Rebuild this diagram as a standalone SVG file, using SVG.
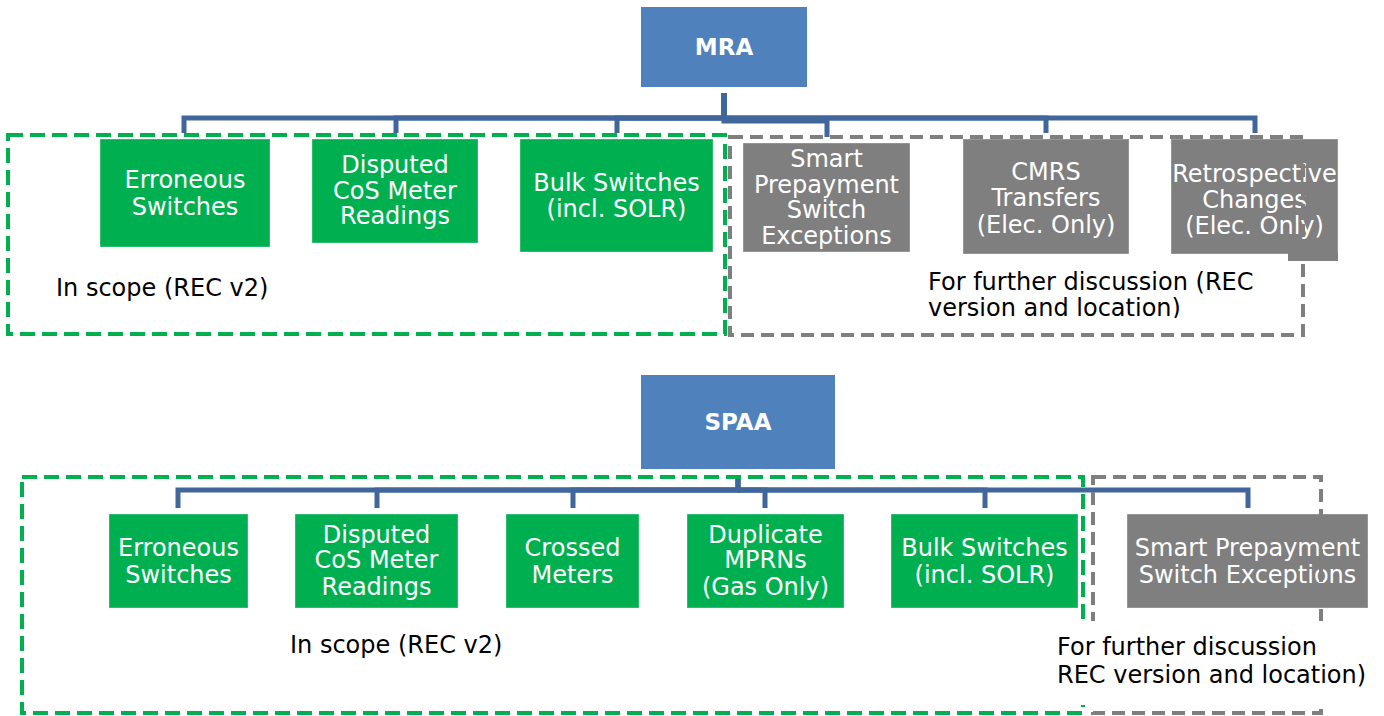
<svg xmlns="http://www.w3.org/2000/svg" width="1384" height="716" viewBox="0 0 1384 716">
<style>
.top{fill:#4F81BD;}
.g{fill:#00B050;stroke:#ffffff;stroke-opacity:0.35;stroke-width:1;}
.gr{fill:#7F7F7F;stroke:#ffffff;stroke-opacity:0.35;stroke-width:1;}
.t{font-family:"DejaVu Sans",Verdana,sans-serif;font-size:24px;fill:#ffffff;text-anchor:middle;}
.tb{font-family:"DejaVu Sans",Verdana,sans-serif;font-size:23px;font-weight:bold;fill:#ffffff;text-anchor:middle;}
.lbl{font-family:"DejaVu Sans",Verdana,sans-serif;font-size:24px;fill:#000000;}
.con{fill:none;stroke:#41669B;stroke-width:5;}
.bg{fill:none;stroke:#00B050;stroke-width:4;stroke-dasharray:15 7;}
.bgr{fill:none;stroke:#7F7F7F;stroke-width:4;stroke-dasharray:13 7;}
</style>
<defs>
<clipPath id="clipTopLbl"><rect x="900" y="260" width="380" height="58"/></clipPath>
</defs>
<rect width="1384" height="716" fill="#ffffff"/>

<g id="connectors">
<path class="con" d="M724,93 V118 H184 V133"/>
<path class="con" d="M724,93 V118 H396 V133"/>
<path class="con" d="M724,93 V118 H617 V133"/>
<path class="con" d="M724,93 V121 H827 V137"/>
<path class="con" d="M724,93 V118 H1046 V133"/>
<path class="con" d="M724,93 V118 H1255 V133"/>
<path class="con" d="M738,475 V490 H178 V508"/>
<path class="con" d="M738,475 V490 H377 V508"/>
<path class="con" d="M738,475 V490 H573 V508"/>
<path class="con" d="M738,490 H765 V508"/>
<path class="con" d="M738,490 H985 V508"/>
<path class="con" d="M738,490 H1248 V508"/>
</g>

<g id="mra">
<rect class="top" x="641" y="7" width="166" height="80"/>
<text class="tb" x="724" y="55">MRA</text>
</g>
<g id="mra-erroneous">
<rect class="g" x="100" y="139" width="170" height="108"/>
<text class="t" x="185" y="188">Erroneous</text>
<text class="t" x="185" y="215">Switches</text>
</g>
<g id="mra-disputed">
<rect class="g" x="312" y="139" width="166" height="104"/>
<text class="t" x="395" y="173">Disputed</text>
<text class="t" x="395" y="199">CoS Meter</text>
<text class="t" x="395" y="224">Readings</text>
</g>
<g id="mra-bulk">
<rect class="g" x="520" y="139" width="193" height="113"/>
<text class="t" x="616.5" y="191">Bulk Switches</text>
<text class="t" x="616.5" y="217">(incl. SOLR)</text>
</g>
<g id="mra-smart">
<rect class="gr" x="743" y="143" width="167" height="109"/>
<text class="t" x="826.5" y="167">Smart</text>
<text class="t" x="826.5" y="193">Prepayment</text>
<text class="t" x="826.5" y="218">Switch</text>
<text class="t" x="826.5" y="244">Exceptions</text>
</g>
<g id="mra-cmrs">
<rect class="gr" x="963" y="139" width="166" height="115"/>
<text class="t" x="1046" y="180">CMRS</text>
<text class="t" x="1046" y="206">Transfers</text>
<text class="t" x="1046" y="233">(Elec. Only)</text>
</g>
<g id="mra-retro">
<rect class="gr" x="1171" y="139" width="167" height="115"/>
<rect x="1288" y="253" width="50" height="8" fill="#7F7F7F"/>
<text class="t" x="1254.5" y="182">Retrospective</text>
<text class="t" x="1254.5" y="208">Changes</text>
<text class="t" x="1254.5" y="234">(Elec. Only)</text>
</g>

<g id="spaa">
<rect class="top" x="641" y="375" width="194" height="94"/>
<text class="tb" x="738" y="430">SPAA</text>
</g>
<g id="spaa-erroneous">
<rect class="g" x="109" y="514" width="139" height="94"/>
<text class="t" x="178.5" y="556">Erroneous</text>
<text class="t" x="178.5" y="583">Switches</text>
</g>
<g id="spaa-disputed">
<rect class="g" x="295" y="514" width="163" height="94"/>
<text class="t" x="376.5" y="543">Disputed</text>
<text class="t" x="376.5" y="568">CoS Meter</text>
<text class="t" x="376.5" y="595">Readings</text>
</g>
<g id="spaa-crossed">
<rect class="g" x="506" y="514" width="133" height="94"/>
<text class="t" x="572.5" y="556">Crossed</text>
<text class="t" x="572.5" y="583">Meters</text>
</g>
<g id="spaa-duplicate">
<rect class="g" x="687" y="514" width="157" height="94"/>
<text class="t" x="765.5" y="543">Duplicate</text>
<text class="t" x="765.5" y="568">MPRNs</text>
<text class="t" x="765.5" y="595">(Gas Only)</text>
</g>
<g id="spaa-bulk">
<rect class="g" x="891" y="514" width="187" height="94"/>
<text class="t" x="984.5" y="556">Bulk Switches</text>
<text class="t" x="984.5" y="583">(incl. SOLR)</text>
</g>
<g id="spaa-smart">
<rect class="gr" x="1127" y="514" width="241" height="94"/>
<text class="t" x="1247.5" y="556">Smart Prepayment</text>
<text class="t" x="1247.5" y="583">Switch Exceptions</text>
</g>

<g id="scope-boxes">
<rect class="bg" x="8" y="135" width="717" height="199"/>
<rect class="bgr" x="730" y="137" width="573" height="198"/>
<rect class="bg" x="22" y="477" width="1061" height="236"/>
<rect class="bgr" x="1093" y="477" width="228" height="236"/>
</g>

<g id="labels">
<text class="lbl" x="56" y="296">In scope (REC v2)</text>
<g clip-path="url(#clipTopLbl)">
<text class="lbl" x="928" y="290">For further discussion (REC</text>
<text class="lbl" x="928" y="316">version and location)</text>
</g>
<text class="lbl" x="290" y="653">In scope (REC v2)</text>
<rect x="1050" y="621" width="326" height="84" fill="#ffffff"/>
<text class="lbl" x="1057" y="655">For further discussion</text>
<text class="lbl" x="1057" y="683">REC version and location)</text>
</g>
</svg>
